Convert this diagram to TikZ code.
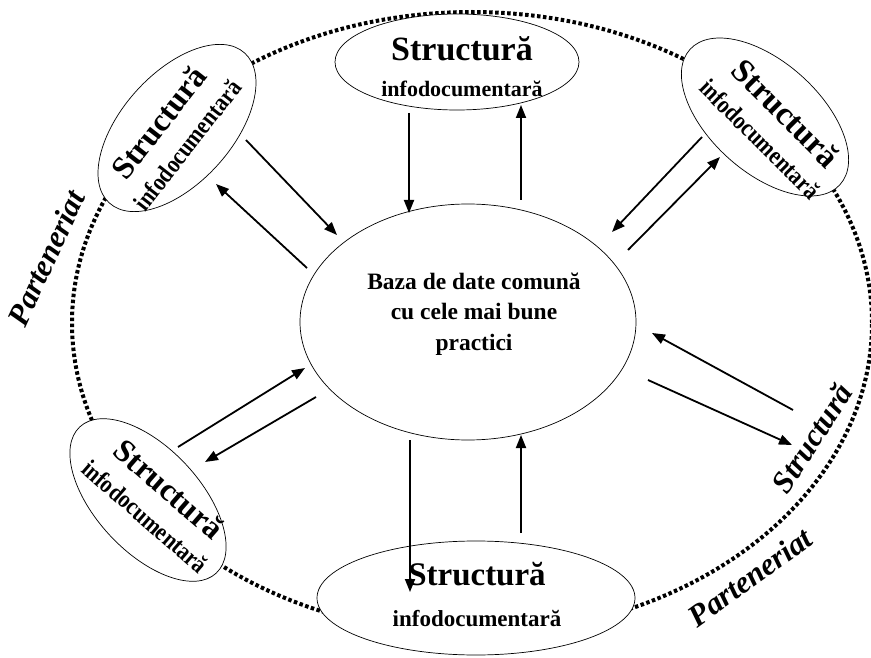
\documentclass[tikz,border=0pt]{standalone}
\usepackage{fontspec}
\usepackage{graphicx}
\setmainfont{Liberation Serif}
\usetikzlibrary{shapes.geometric,arrows.meta}
\newcommand{\condensed}[1]{\scalebox{0.86}[1]{#1}}
\begin{document}
\begin{tikzpicture}[x=1pt,y=-1pt,
  sat/.style={ellipse, draw, fill=white, line width=0.7pt, inner sep=0pt},
  ringstyle/.style={ellipse, draw, line width=4pt, dash pattern=on 3.5pt off 2.5pt, inner sep=0pt},
  arr/.style={line width=1.8pt, -{Triangle[length=13pt,width=10pt]}},
  sattext/.style={align=center, inner sep=0pt, font=\bfseries\fontsize{25}{34}\selectfont},
  bigword/.style={font=\bfseries\itshape\fontsize{31}{31}\selectfont, inner sep=0pt}
]
\useasboundingbox (0,0) rectangle (871,658);
% outer dotted ring
\node[ringstyle, minimum width=800pt, minimum height=622pt] (ring) at (472,323) {};
% central ellipse
\node[sat, minimum width=336pt, minimum height=236pt] (center) at (468,322) {};
\node[align=center, inner sep=0pt, font=\bfseries\fontsize{23.5}{30.5}\selectfont] (ctext) at (474,314)
  {Baza de date comună\\cu cele mai bune\\practici};
% satellites
\node[sat, minimum width=244pt, minimum height=96pt] (top) at (457,62) {};
\node[sattext, font=\bfseries\fontsize{22}{36}\selectfont] (toptext) at (462,67)
  {{\fontsize{34}{34}\selectfont Structură}\\infodocumentară};
\node[sat, minimum width=318pt, minimum height=114pt] (bot) at (476,598) {};
\node[sattext, font=\bfseries\fontsize{23}{41}\selectfont] (bottext) at (477,595)
  {{\fontsize{33}{33}\selectfont Structură}\\infodocumentară};
\node[sat, minimum width=202pt, minimum height=110pt, rotate=48] (tl) at (177,128) {};
\node[sattext, rotate=52] (tltext) at (172,133)
  {{\fontsize{32}{32}\selectfont Structură}\\\condensed{infodocumentară}};
\node[sat, minimum width=202pt, minimum height=110pt, rotate=-42] (tr) at (765,117) {};
\node[sattext, rotate=-45] (trtext) at (774,125)
  {{\fontsize{33}{33}\selectfont Structură}\\\condensed{infodocumentară}};
\node[sat, minimum width=200pt, minimum height=104pt, rotate=-47] (bl) at (148,500) {};
\node[sattext, rotate=-41] (bltext) at (158,502)
  {{\fontsize{32}{32}\selectfont Structură}\\\condensed{infodocumentară}};
% free labels
\node[bigword, rotate=57] (rstr) at (812,438) {Structură};
\node[bigword, rotate=36] (pbr) at (750,577) {Parteneriat};
\node[bigword, rotate=65] (pl) at (46,258) {Parteneriat};
% arrow end points
\coordinate (t1a) at (409,113); \coordinate (t1b) at (409,213);
\coordinate (t2a) at (521,200); \coordinate (t2b) at (521,105);
\coordinate (l1a) at (246,140); \coordinate (l1b) at (337,235);
\coordinate (l2a) at (307,268); \coordinate (l2b) at (216,184);
\coordinate (r1a) at (702,137); \coordinate (r1b) at (612,232);
\coordinate (r2a) at (628,250); \coordinate (r2b) at (720,157);
\coordinate (e1a) at (793,410); \coordinate (e1b) at (652,333);
\coordinate (e2a) at (648,380); \coordinate (e2b) at (792,445);
\coordinate (b1a) at (178,447); \coordinate (b1b) at (305,368);
\coordinate (b2a) at (316,397); \coordinate (b2b) at (205,462);
\coordinate (d1a) at (410,440); \coordinate (d1b) at (410,592);
\coordinate (d2a) at (521,533); \coordinate (d2b) at (521,435);
\foreach \p in {t1,t2,l1,l2,r1,r2,e1,e2,b1,b2,d1,d2}
  \draw[arr] (\p a) -- (\p b);
\end{tikzpicture}
\end{document}
